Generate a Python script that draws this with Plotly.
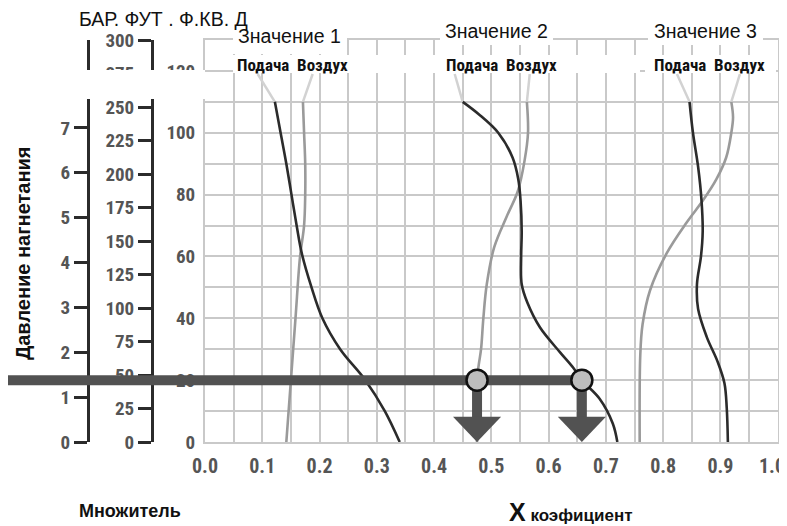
import plotly.graph_objects as go

# The page shows the figure with the browser's default 8px body margin,
# so the figure is made 8px smaller and every reference pixel is shifted by it.
OFF = 8
W, H = 787 - OFF, 526 - OFF

# ---------------- data ----------------
x_ticks = [0.0, 0.1, 0.2, 0.3, 0.4, 0.5, 0.6, 0.7, 0.8, 0.9, 1.0]
y_ticks = [0, 20, 40, 60, 80, 100, 120]
bar_ticks = [0, 1, 2, 3, 4, 5, 6, 7]
ft_ticks = [0, 25, 50, 75, 100, 125, 150, 175, 200, 225, 250, 275, 300]

v1_feed_x = [0.122, 0.132, 0.142, 0.151, 0.160, 0.169, 0.186, 0.205, 0.236, 0.280, 0.314, 0.340]
v1_feed_y = [110, 100, 90, 80, 70, 61, 50, 40, 30, 20, 10, 0]
v1_air_x = [0.171, 0.173, 0.175, 0.175, 0.173, 0.166, 0.158, 0.150, 0.142]
v1_air_y = [110, 100, 90, 80, 70, 60, 40, 20, 0]

v2_feed_x = [0.450, 0.478, 0.512, 0.537, 0.547, 0.551, 0.553, 0.552, 0.553, 0.563, 0.585, 0.620, 0.643, 0.658, 0.689, 0.712, 0.720]
v2_feed_y = [110, 106, 100, 92, 85, 78, 68, 60, 51, 45, 37, 29, 24, 20, 14, 6, 0]
v2_air_x = [0.562, 0.564, 0.558, 0.546, 0.527, 0.505, 0.492, 0.486, 0.482, 0.478, 0.475, 0.475]
v2_air_y = [110, 100, 91, 81, 73, 63, 51, 40, 30, 25, 20, 0]

v3_feed_x = [0.846, 0.852, 0.861, 0.867, 0.869, 0.866, 0.859, 0.861, 0.876, 0.895, 0.907, 0.911, 0.913]
v3_feed_y = [110, 100, 89, 78, 68, 60, 51, 43, 34, 26, 19, 11, 0]
v3_air_x = [0.919, 0.922, 0.919, 0.910, 0.893, 0.869, 0.841, 0.806, 0.777, 0.764, 0.760, 0.759]
v3_air_y = [110, 105, 100, 92, 85, 78, 71, 61, 49, 38, 28, 0]

# faded leader lines running up to the "Подача / Воздух" labels
lead_x = [[0.092, 0.122], [0.188, 0.171], [0.436, 0.450], [0.567, 0.562], [0.824, 0.846], [0.934, 0.919]]
lead_y = [[119, 110], [119, 110], [119, 110], [119, 110], [119, 110], [119, 110]]

# example reading: pressure 20 -> coefficients
read_y = 20
read_x = [0.475, 0.658]

series_titles = ["Значение 1", "Значение 2", "Значение 3"]
sub_labels = "Подача  Воздух"

# ---------------- styles ----------------
DARK = "#2b2b2b"
LIGHT = "#9a9a9a"
LEAD = "#d2d2d2"
GRID = "#c9c9c9"
BAR = "#525252"
TICKC = "#555555"
NARROW = "Liberation Sans Narrow, Roboto Condensed, Arial Narrow, Roboto, sans-serif"
SANS = "Liberation Sans, Arial, sans-serif"


def px_x(p):
    return (p - OFF) / W


def px_y(p):
    return 1 - (p - OFF) / H


fig = go.Figure()

for lx, ly in zip(lead_x, lead_y):
    fig.add_trace(go.Scatter(x=lx, y=ly, mode="lines", line=dict(color=LEAD, width=2.5),
                             hoverinfo="skip", showlegend=False, cliponaxis=False))

for xs, ys, col in [(v1_air_x, v1_air_y, LIGHT), (v1_feed_x, v1_feed_y, DARK),
                    (v2_air_x, v2_air_y, LIGHT), (v2_feed_x, v2_feed_y, DARK),
                    (v3_air_x, v3_air_y, LIGHT), (v3_feed_x, v3_feed_y, DARK)]:
    fig.add_trace(go.Scatter(x=xs, y=ys, mode="lines",
                             line=dict(color=col, width=2.6, shape="spline", smoothing=1.0),
                             showlegend=False))

x_dom = [px_x(205), px_x(778)]
y_dom = [px_y(442), px_y(40)]

xtick_font = dict(family=NARROW, size=20, color=TICKC, weight="bold")
ytick_font = dict(family=NARROW, size=19, color=TICKC, weight="bold")

# last x label sits at the right edge; it is drawn as an annotation nudged inward
x_ticktext = [f"{v:.1f}" for v in x_ticks[:-1]] + [""]

fig.update_layout(
    width=W, height=H, autosize=False,
    margin=dict(l=0, r=0, t=0, b=0, pad=0, autoexpand=False),
    paper_bgcolor="white", plot_bgcolor="white",
    showlegend=False,
    xaxis=dict(domain=x_dom, range=[0, 1.0005], tickvals=x_ticks, ticktext=x_ticktext,
               automargin=False,
               showgrid=True, gridcolor=GRID, gridwidth=2,
               minor=dict(dtick=0.05, showgrid=True, gridcolor=GRID, gridwidth=2),
               showline=True, mirror=True, linecolor=GRID, linewidth=2,
               zeroline=False, ticks="", ticklabelstandoff=5,
               tickfont=xtick_font),
    yaxis=dict(domain=y_dom, range=[0, 130], tickvals=y_ticks, automargin=False,
               showgrid=True, gridcolor=GRID, gridwidth=2,
               minor=dict(dtick=10, showgrid=True, gridcolor=GRID, gridwidth=2),
               showline=True, mirror=True, linecolor=GRID, linewidth=2,
               zeroline=False, ticks="", ticklabelstandoff=4,
               tickfont=ytick_font),
    yaxis2=dict(domain=y_dom, range=[0, 402 / 44.86], tickvals=bar_ticks, automargin=False,
                overlaying="y", anchor="free", position=px_x(88), side="left",
                showgrid=False, zeroline=False, showline=True, linecolor=DARK, linewidth=3,
                ticks="outside", ticklen=13, tickwidth=2.5, tickcolor=DARK,
                tickfont=ytick_font),
    yaxis3=dict(domain=y_dom, range=[0, 300], tickvals=ft_ticks, automargin=False,
                overlaying="y", anchor="free", position=px_x(152), side="left",
                showgrid=False, zeroline=False, showline=True, linecolor=DARK, linewidth=3,
                ticks="outside", ticklen=13, tickwidth=2.5, tickcolor=DARK,
                tickfont=ytick_font),
)

# dummy traces so the extra axes are drawn
fig.add_trace(go.Scatter(x=[None], y=[None], yaxis="y2", showlegend=False))
fig.add_trace(go.Scatter(x=[None], y=[None], yaxis="y3", showlegend=False))

shapes = []
# white patches (as in the scanned original)
for (x0, x1, y0, y1) in [(0, 205, 70, 99), (233, 347, 26, 54), (440, 553, 18, 45),
                         (648, 763, 18, 45), (233, 640, 55, 73), (645, 776, 55, 73)]:
    shapes.append(dict(type="rect", xref="paper", yref="paper", layer="above",
                       x0=px_x(x0), x1=px_x(x1), y0=px_y(y1), y1=px_y(y0),
                       fillcolor="white", line=dict(width=0)))
# thick horizontal reading bar
shapes.append(dict(type="line", xref="paper", yref="y", layer="above",
                   x0=0, x1=x_dom[0], y0=read_y, y1=read_y, line=dict(color=BAR, width=10)))
shapes.append(dict(type="line", xref="x", yref="y", layer="above",
                   x0=0, x1=max(read_x), y0=read_y, y1=read_y, line=dict(color=BAR, width=10)))
# arrows down to the coefficient axis
for rx in read_x:
    shapes.append(dict(type="line", xref="x", yref="y", layer="above",
                       x0=rx, x1=rx, y0=read_y, y1=8, line=dict(color=BAR, width=10)))
    shapes.append(dict(type="path", xref="x", yref="y", layer="above",
                       path=f"M {rx - 0.042},8.2 L {rx + 0.042},8.2 L {rx},0 Z",
                       fillcolor=BAR, line=dict(width=0)))
# reading points (circles on top)
for rx in read_x:
    shapes.append(dict(type="circle", xref="x", yref="y", layer="above",
                       xsizemode="pixel", ysizemode="pixel", xanchor=rx, yanchor=read_y,
                       x0=-10.5, x1=10.5, y0=-10.5, y1=10.5,
                       fillcolor="#bdbdbd", line=dict(color="#111", width=2.5)))
fig.update_layout(shapes=shapes)

ann = []
ann.append(dict(text=f"{x_ticks[-1]:.1f}", xref="x", yref="paper", x=x_ticks[-1], y=px_y(466),
                xanchor="center", yanchor="middle", xshift=-6, font=xtick_font))
ann.append(dict(text="БАР. ФУТ . Ф.КВ. Д", x=px_x(77), y=px_y(19), xanchor="left", yanchor="middle",
                font=dict(family=SANS, size=19.5, color="#111")))
for t, cx, cy in zip(series_titles, [289, 497, 705], [36, 31, 31]):
    ann.append(dict(text=t, x=px_x(cx), y=px_y(cy), xanchor="center", yanchor="middle",
                    font=dict(family=SANS, size=19.5, color="#111")))
for cx in [292, 501, 709]:
    ann.append(dict(text=sub_labels, x=px_x(cx), y=px_y(65), xanchor="center", yanchor="middle",
                    font=dict(family=NARROW, size=17, color="#111", weight="bold")))
ann.append(dict(text="Давление нагнетания", x=px_x(23), y=px_y(254), textangle=-90,
                xanchor="center", yanchor="middle",
                font=dict(family=SANS, size=20, color="#111", weight="bold")))
ann.append(dict(text="Множитель", x=px_x(130), y=px_y(511), xanchor="center", yanchor="middle",
                font=dict(family=SANS, size=18, color="#111", weight="bold")))
ann.append(dict(text="<span style='font-size:25px'>X</span> коэфициент", x=px_x(571), y=px_y(512),
                xanchor="center", yanchor="middle",
                font=dict(family=SANS, size=17, color="#111", weight="bold")))
for a in ann:
    a.setdefault("xref", "paper")
    a.setdefault("yref", "paper")
    a["showarrow"] = False
fig.update_layout(annotations=ann)

fig.write_html("out.html")
